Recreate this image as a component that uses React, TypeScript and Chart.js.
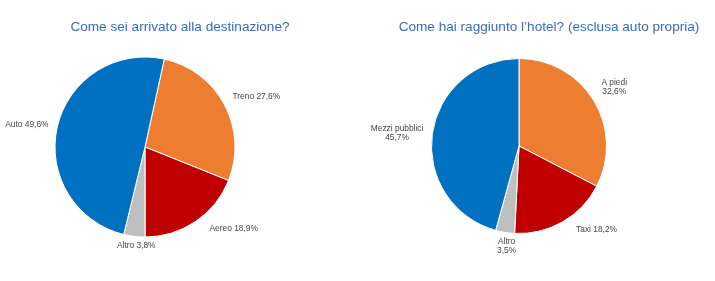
import React, { useEffect, useRef } from "react";
import { Chart, registerables } from "chart.js";

Chart.register(...registerables);

// ---- data ----
const leftTitle = "Come sei arrivato alla destinazione?";
const leftCategories = ["Treno", "Aereo", "Altro", "Auto"];
const leftValues = [27.6, 18.9, 3.8, 49.6];
const leftWrap = [false, false, false, false];
const leftColors = ["#ED7D31", "#C00000", "#BFBFBF", "#0070C0"];
const leftRotation = 12.4;

const rightTitle = "Come hai raggiunto l\u2019hotel? (esclusa auto propria)";
const rightCategories = ["A piedi", "Taxi", "Altro", "Mezzi pubblici"];
const rightValues = [32.6, 18.2, 3.5, 45.7];
const rightWrap = [true, false, true, true];
const rightColors = ["#ED7D31", "#C00000", "#BFBFBF", "#0070C0"];
const rightRotation = 0;

const FONT = "'Liberation Sans', Arial, Helvetica, sans-serif";

const outsideLabels = {
  id: "outsideLabels",
  afterDatasetsDraw(chart: any, _args: any, opts: any) {
    const ctx = chart.ctx;
    const meta = chart.getDatasetMeta(0);
    const ds = chart.data.datasets[0];
    const labels = chart.data.labels as string[];
    const wrap: boolean[] = opts.wrap || [];
    const gap = 9;
    const lh = 9;
    ctx.save();
    ctx.font = "8.4px " + FONT;
    ctx.fillStyle = "#444444";
    ctx.textAlign = "center";
    ctx.textBaseline = "middle";
    meta.data.forEach((arc: any, i: number) => {
      const p = arc.getProps(["x", "y", "startAngle", "endAngle", "outerRadius"], true);
      const mid = (p.startAngle + p.endAngle) / 2;
      const c = Math.cos(mid);
      const s = Math.sin(mid);
      const pct = (ds.data[i] as number).toFixed(1).replace(".", ",") + "%";
      const lines = wrap[i] ? [labels[i], pct] : [labels[i] + " " + pct];
      const bw = Math.max(...lines.map((l) => ctx.measureText(l).width));
      const bh = lh * lines.length;
      const d = p.outerRadius + gap;
      const px = p.x + c * d;
      const py = p.y + s * d;
      let left: number;
      let top: number;
      if (Math.abs(c) <= 0.3) {
        left = px - bw / 2 + 3;
        top = s > 0 ? py - 4 : py - bh + 2;
      } else {
        const extra = s > 0.3 ? 9 : 0;
        left = c > 0 ? px + extra : px - bw - extra;
        top = s < -0.3 ? py - bh : py - bh / 2;
      }
      lines.forEach((l, k) => {
        ctx.fillText(l, left + bw / 2, top + lh * k + lh / 2);
      });
    });
    ctx.restore();
  },
};

type PieProps = {
  categories: string[];
  values: number[];
  colors: string[];
  wrap: boolean[];
  rotation: number;
  width: number;
  height: number;
  padding: { left: number; right: number; top: number; bottom: number };
  style: React.CSSProperties;
};

function Pie(props: PieProps) {
  const ref = useRef<HTMLCanvasElement | null>(null);
  useEffect(() => {
    if (!ref.current) return;
    const chart = new Chart(ref.current, {
      type: "pie",
      data: {
        labels: props.categories,
        datasets: [
          {
            data: props.values,
            backgroundColor: props.colors,
            borderColor: "#ffffff",
            borderWidth: 1,
          },
        ],
      },
      options: {
        responsive: false,
        animation: false,
        rotation: props.rotation,
        layout: { padding: props.padding },
        plugins: {
          legend: { display: false },
          tooltip: { enabled: false },
          title: { display: false },
          outsideLabels: { wrap: props.wrap },
        } as any,
      },
      plugins: [outsideLabels as any],
    });
    return () => chart.destroy();
  }, []);
  return <canvas ref={ref} width={props.width} height={props.height} style={props.style} />;
}

const titleStyle: React.CSSProperties = {
  position: "absolute",
  top: 19,
  height: 16,
  lineHeight: "16px",
  fontFamily: FONT,
  fontSize: 13.6,
  color: "#3A6DB5",
  textAlign: "center",
  whiteSpace: "nowrap",
};

export default function App() {
  return (
    <div
      style={{
        position: "absolute",
        left: 0,
        top: 0,
        width: 715,
        height: 281,
        background: "#ffffff",
        overflow: "hidden",
      }}
    >
      <Pie
        categories={leftCategories}
        values={leftValues}
        colors={leftColors}
        wrap={leftWrap}
        rotation={leftRotation}
        width={357}
        height={281}
        padding={{ left: 54.5, right: 121.5, top: 56.5, bottom: 43.5 }}
        style={{ position: "absolute", left: 0, top: 0 }}
      />
      <Pie
        categories={rightCategories}
        values={rightValues}
        colors={rightColors}
        wrap={rightWrap}
        rotation={rightRotation}
        width={358}
        height={281}
        padding={{ left: 74, right: 108, top: 58, bottom: 47 }}
        style={{ position: "absolute", left: 357, top: 0 }}
      />
      <div style={{ ...titleStyle, left: 0, width: 360 }}>{leftTitle}</div>
      <div style={{ ...titleStyle, left: 349, width: 400 }}>{rightTitle}</div>
    </div>
  );
}
